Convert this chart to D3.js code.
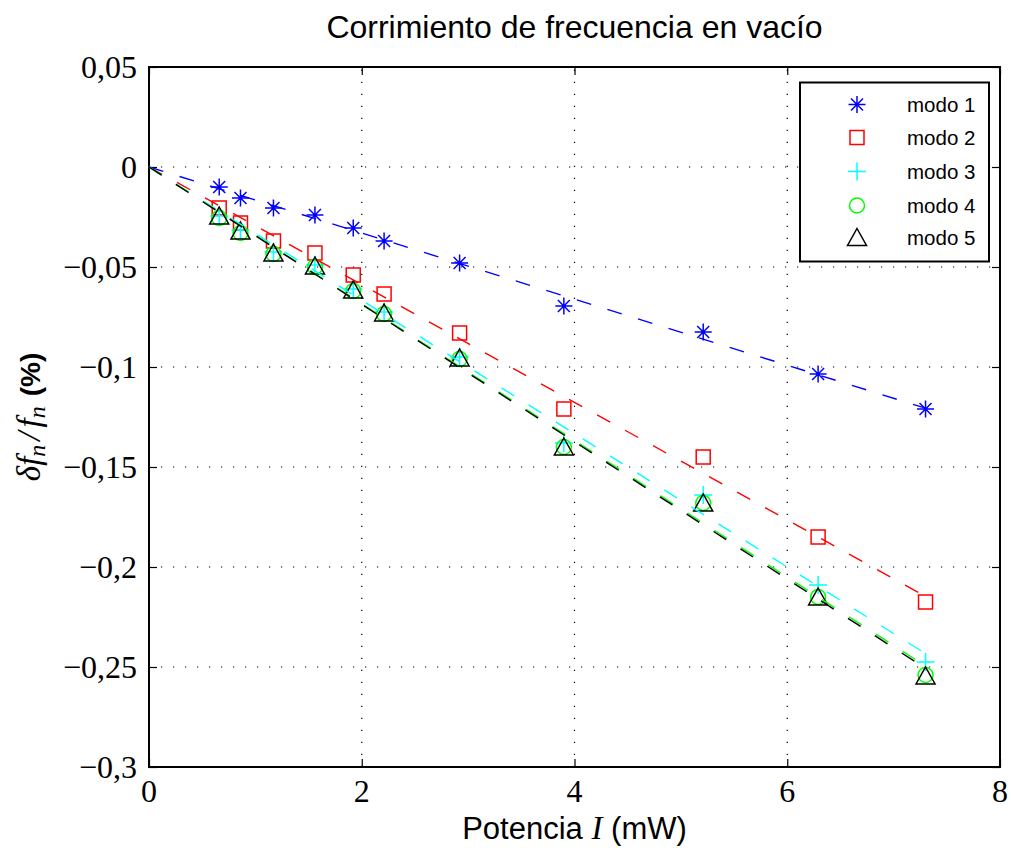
<!DOCTYPE html>
<html>
<head>
<meta charset="utf-8">
<script src="https://cdn.jsdelivr.net/npm/d3@7"></script>
<style>
  body { margin: 0; background: #fff; }
  .tick-label { font-family: "Liberation Serif", serif; font-size: 32px; fill: #000; }
  .titulo { font-family: "Liberation Sans", Arial, sans-serif; font-size: 32px; fill: #000; }
  .etiqueta { font-family: "Liberation Sans", Arial, sans-serif; font-size: 31px; fill: #000; }
  .leyenda text { font-family: "Liberation Sans", Arial, sans-serif; font-size: 20.5px; fill: #000; }
</style>
</head>
<body>
<div id="chart"></div>
<script>
// Datos
const potencia = [0.66, 0.86, 1.17, 1.56, 1.92, 2.21, 2.92, 3.90, 5.21, 6.29, 7.30];

const modo1 = [-0.0100, -0.0155, -0.0205, -0.0240, -0.0305, -0.0370, -0.0480, -0.0695, -0.0825, -0.1035, -0.1210];
const modo2 = [-0.0205, -0.0280, -0.0370, -0.0430, -0.0540, -0.0635, -0.0830, -0.1210, -0.1450, -0.1850, -0.2175];
const modo3 = [-0.0245, -0.0315, -0.0425, -0.0490, -0.0610, -0.0725, -0.0950, -0.1380, -0.1640, -0.2090, -0.2475];
const modo4 = [-0.0255, -0.0330, -0.0435, -0.0500, -0.0620, -0.0735, -0.0960, -0.1400, -0.1680, -0.2150, -0.2540];
const modo5 = [-0.0245, -0.0320, -0.0430, -0.0495, -0.0615, -0.0730, -0.0955, -0.1400, -0.1680, -0.2150, -0.2545];

// ajustes lineales: de (0,0) hasta la ultima potencia
const ajusteX = [0, 7.30];
const ajusteFin = [-0.1206, -0.2147, -0.2433, -0.2495, -0.2507];

const nombres = ["modo 1", "modo 2", "modo 3", "modo 4", "modo 5"];
const colores = ["#0000ff", "#ff0000", "#00ffff", "#00ff00", "#000000"];
const marcadores = ["asterisco", "cuadrado", "cruz", "circulo", "triangulo"];

const xTicks = [0, 2, 4, 6, 8];
const yTicks = [0.05, 0, -0.05, -0.1, -0.15, -0.2, -0.25, -0.3];
const yTickLabels = ["0,05", "0", "\u22120,05", "\u22120,1", "\u22120,15", "\u22120,2", "\u22120,25", "\u22120,3"];

const series = [modo1, modo2, modo3, modo4, modo5];

// Dimensiones
const W = 1011, H = 853;
const margin = {top: 67, right: 11, bottom: 86, left: 149};
const width = W - margin.left - margin.right;
const height = H - margin.top - margin.bottom;

const svg = d3.select("#chart").append("svg")
    .attr("width", W)
    .attr("height", H);

const g = svg.append("g")
    .attr("transform", "translate(" + margin.left + "," + margin.top + ")");

const x = d3.scaleLinear().domain([0, 8]).range([0, width]);
const y = d3.scaleLinear().domain([-0.3, 0.05]).range([height, 0]);

// Rejilla punteada
g.append("g").selectAll("line")
    .data(xTicks.slice(1, -1))
    .join("line")
    .attr("x1", d => x(d)).attr("x2", d => x(d))
    .attr("y1", height).attr("y2", 0)
    .attr("stroke", "#000").attr("stroke-width", 1.2)
    .attr("stroke-dasharray", "1.2,10.8");

g.append("g").selectAll("line")
    .data(yTicks.slice(1, -1))
    .join("line")
    .attr("y1", d => y(d)).attr("y2", d => y(d))
    .attr("x1", 0).attr("x2", width)
    .attr("stroke", "#000").attr("stroke-width", 1.2)
    .attr("stroke-dasharray", "1.2,10.8");

// Ejes (ticks hacia dentro, como en MATLAB)
const tickLen = 8;
const xAxisB = d3.axisBottom(x).tickValues(xTicks).tickSize(-tickLen).tickFormat("");
const xAxisT = d3.axisTop(x).tickValues(xTicks).tickSize(-tickLen).tickFormat("");
const yAxisL = d3.axisLeft(y).tickValues(yTicks).tickSize(-tickLen).tickFormat("");
const yAxisR = d3.axisRight(y).tickValues(yTicks).tickSize(-tickLen).tickFormat("");

g.append("g").attr("transform", "translate(0," + height + ")").call(xAxisB);
g.append("g").call(xAxisT);
g.append("g").call(yAxisL);
g.append("g").attr("transform", "translate(" + width + ",0)").call(yAxisR);
g.selectAll(".domain").remove();
g.selectAll(".tick line").attr("stroke", "#000").attr("stroke-width", 1.2);

// Marco
g.append("rect")
    .attr("x", 0).attr("y", 0)
    .attr("width", width).attr("height", height)
    .attr("fill", "none").attr("stroke", "#000").attr("stroke-width", 2);

// Etiquetas de ticks
g.append("g").selectAll("text")
    .data(xTicks)
    .join("text")
    .attr("class", "tick-label")
    .attr("x", d => x(d))
    .attr("y", height + 35)
    .attr("text-anchor", "middle")
    .text(d => d);

g.append("g").selectAll("text")
    .data(yTicks)
    .join("text")
    .attr("class", "tick-label")
    .attr("x", -12)
    .attr("y", d => y(d) + 11)
    .attr("text-anchor", "end")
    .text((d, i) => yTickLabels[i]);

// Marcadores
function marcador(sel, tipo, color) {
    sel.attr("fill", "none").attr("stroke", color).attr("stroke-width", 1.5);
    if (tipo === "asterisco") {
        const r = 8.5, q = 6;
        sel.append("path").attr("d",
            "M0," + (-r) + "V" + r + "M" + (-r) + ",0H" + r +
            "M" + (-q) + "," + (-q) + "L" + q + "," + q +
            "M" + (-q) + "," + q + "L" + q + "," + (-q));
    } else if (tipo === "cuadrado") {
        sel.append("rect").attr("x", -7).attr("y", -7).attr("width", 14).attr("height", 14);
    } else if (tipo === "cruz") {
        const r = 9;
        sel.append("path").attr("d", "M0," + (-r) + "V" + r + "M" + (-r) + ",0H" + r);
    } else if (tipo === "circulo") {
        sel.append("circle").attr("r", 7.5);
    } else if (tipo === "triangulo") {
        sel.append("path").attr("d", "M0,-9L9.5,8L-9.5,8Z");
    }
}

const linea = d3.line().x(d => x(d[0])).y(d => y(d[1]));

series.forEach((vals, i) => {
    const pts = potencia.map((p, j) => [p, vals[j]]);
    g.append("g").selectAll("g")
        .data(pts)
        .join("g")
        .attr("transform", d => "translate(" + x(d[0]) + "," + y(d[1]) + ")")
        .each(function() { marcador(d3.select(this), marcadores[i], colores[i]); });
});

series.forEach((vals, i) => {
    g.append("path")
        .datum([[ajusteX[0], 0], [ajusteX[1], ajusteFin[i]]])
        .attr("fill", "none")
        .attr("stroke", colores[i])
        .attr("stroke-width", 1.4)
        .attr("stroke-dasharray", "15,17")
        .attr("d", linea);
});

// Leyenda
const leyenda = svg.append("g").attr("class", "leyenda");
leyenda.append("rect")
    .attr("x", 800).attr("y", 82.5)
    .attr("width", 189).attr("height", 179)
    .attr("fill", "#fff").attr("stroke", "#000").attr("stroke-width", 2);

const filasY = [104.5, 137.5, 171.5, 205.5, 237.5];
nombres.forEach((nombre, i) => {
    const fila = leyenda.append("g").attr("transform", "translate(857," + filasY[i] + ")");
    marcador(fila.append("g"), marcadores[i], colores[i]);
    leyenda.append("text")
        .attr("x", 907).attr("y", filasY[i] + 7.5)
        .text(nombre);
});

// Titulo
svg.append("text")
    .attr("class", "titulo")
    .attr("x", margin.left + width / 2)
    .attr("y", 38)
    .attr("text-anchor", "middle")
    .text("Corrimiento de frecuencia en vac\u00edo");

// Etiqueta eje x
const xl = svg.append("text")
    .attr("class", "etiqueta")
    .attr("x", margin.left + width / 2)
    .attr("y", 839)
    .attr("text-anchor", "middle");
xl.append("tspan").text("Potencia ");
xl.append("tspan").attr("font-family", "Liberation Serif, serif").attr("font-style", "italic").attr("font-size", 33).text("I");
xl.append("tspan").text(" (mW)");

// Etiqueta eje y
const yl = svg.append("text")
    .attr("transform", "translate(40," + (margin.top + height / 2) + ") rotate(-90)")
    .attr("text-anchor", "middle")
    .attr("font-size", 33);
const mate = {"font-family": "Liberation Serif, serif", "font-style": "italic"};
function tsp(t, attrs) {
    const s = yl.append("tspan").text(t);
    Object.entries(attrs).forEach(([k, v]) => s.attr(k, v));
    return s;
}
tsp("\u03b4f", mate);
tsp("n", Object.assign({}, mate, {"font-size": 24, "dy": 5}));
tsp("/", Object.assign({}, mate, {"dy": -5, "dx": 4}));
tsp("f", Object.assign({}, mate, {"dx": 4}));
tsp("n", Object.assign({}, mate, {"font-size": 24, "dy": 5}));
tsp("(%)", {"font-family": "Liberation Sans, Arial, sans-serif", "font-weight": "bold", "font-size": 28, "dy": -5, "dx": 10});
</script>
</body>
</html>
